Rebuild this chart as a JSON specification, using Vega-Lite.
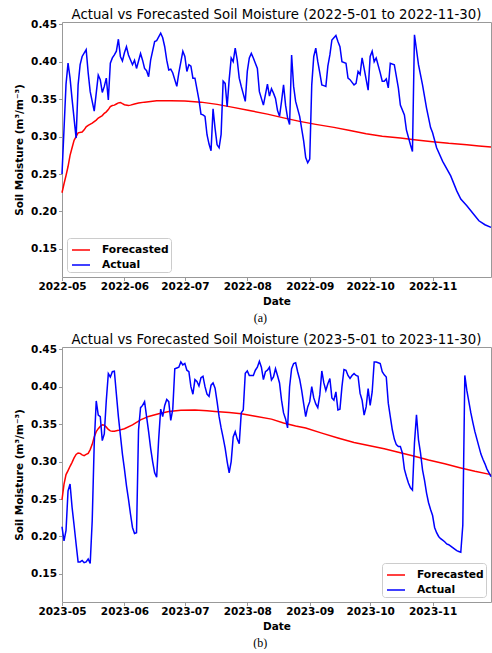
{
  "$schema": "https://vega.github.io/schema/vega-lite/v6.json",
  "padding": {"left": 14, "right": 0, "top": 7, "bottom": 0},
  "spacing": 8,
  "datasets": {
    "a_fc": [
      {"date": "2022-05-01", "value": 0.225}, {"date": "2022-05-02", "value": 0.237}, {"date": "2022-05-03", "value": 0.248},
      {"date": "2022-05-04", "value": 0.26}, {"date": "2022-05-05", "value": 0.275}, {"date": "2022-05-06", "value": 0.285},
      {"date": "2022-05-07", "value": 0.295}, {"date": "2022-05-08", "value": 0.3}, {"date": "2022-05-09", "value": 0.305},
      {"date": "2022-05-11", "value": 0.306}, {"date": "2022-05-12", "value": 0.309}, {"date": "2022-05-13", "value": 0.313},
      {"date": "2022-05-14", "value": 0.315}, {"date": "2022-05-16", "value": 0.318}, {"date": "2022-05-18", "value": 0.322},
      {"date": "2022-05-19", "value": 0.3247}, {"date": "2022-05-21", "value": 0.328}, {"date": "2022-05-22", "value": 0.331},
      {"date": "2022-05-23", "value": 0.333}, {"date": "2022-05-24", "value": 0.336}, {"date": "2022-05-25", "value": 0.34},
      {"date": "2022-05-26", "value": 0.3415}, {"date": "2022-05-27", "value": 0.342}, {"date": "2022-05-28", "value": 0.3435},
      {"date": "2022-05-29", "value": 0.345}, {"date": "2022-05-30", "value": 0.3456}, {"date": "2022-05-31", "value": 0.344},
      {"date": "2022-06-01", "value": 0.3425}, {"date": "2022-06-03", "value": 0.3415}, {"date": "2022-06-04", "value": 0.342},
      {"date": "2022-06-06", "value": 0.3435}, {"date": "2022-06-08", "value": 0.3448}, {"date": "2022-06-11", "value": 0.346},
      {"date": "2022-06-14", "value": 0.347}, {"date": "2022-06-17", "value": 0.3478}, {"date": "2022-06-24", "value": 0.3478},
      {"date": "2022-07-01", "value": 0.3476}, {"date": "2022-07-09", "value": 0.346}, {"date": "2022-07-17", "value": 0.343},
      {"date": "2022-07-25", "value": 0.339}, {"date": "2022-08-02", "value": 0.3348}, {"date": "2022-08-11", "value": 0.33},
      {"date": "2022-08-19", "value": 0.325}, {"date": "2022-08-27", "value": 0.3203}, {"date": "2022-09-04", "value": 0.3163},
      {"date": "2022-09-13", "value": 0.3123}, {"date": "2022-09-21", "value": 0.308}, {"date": "2022-09-29", "value": 0.3039},
      {"date": "2022-10-07", "value": 0.3005}, {"date": "2022-10-16", "value": 0.298}, {"date": "2022-10-24", "value": 0.2955},
      {"date": "2022-11-01", "value": 0.2932}, {"date": "2022-11-09", "value": 0.291}, {"date": "2022-11-18", "value": 0.2892},
      {"date": "2022-11-24", "value": 0.2875}, {"date": "2022-11-30", "value": 0.286}
    ],
    "a_act": [
      {"date": "2022-05-01", "value": 0.25}, {"date": "2022-05-02", "value": 0.31}, {"date": "2022-05-03", "value": 0.37},
      {"date": "2022-05-04", "value": 0.398}, {"date": "2022-05-05", "value": 0.378}, {"date": "2022-05-06", "value": 0.35},
      {"date": "2022-05-08", "value": 0.298}, {"date": "2022-05-09", "value": 0.369}, {"date": "2022-05-10", "value": 0.396},
      {"date": "2022-05-11", "value": 0.407}, {"date": "2022-05-13", "value": 0.416}, {"date": "2022-05-14", "value": 0.385},
      {"date": "2022-05-15", "value": 0.36}, {"date": "2022-05-17", "value": 0.334}, {"date": "2022-05-19", "value": 0.382},
      {"date": "2022-05-20", "value": 0.376}, {"date": "2022-05-21", "value": 0.359}, {"date": "2022-05-22", "value": 0.367},
      {"date": "2022-05-23", "value": 0.378}, {"date": "2022-05-24", "value": 0.349}, {"date": "2022-05-25", "value": 0.398},
      {"date": "2022-05-26", "value": 0.405}, {"date": "2022-05-27", "value": 0.409}, {"date": "2022-05-28", "value": 0.414},
      {"date": "2022-05-29", "value": 0.43}, {"date": "2022-05-30", "value": 0.407}, {"date": "2022-05-31", "value": 0.401},
      {"date": "2022-06-01", "value": 0.412}, {"date": "2022-06-02", "value": 0.42}, {"date": "2022-06-03", "value": 0.409},
      {"date": "2022-06-05", "value": 0.396}, {"date": "2022-06-06", "value": 0.402}, {"date": "2022-06-07", "value": 0.391},
      {"date": "2022-06-09", "value": 0.411}, {"date": "2022-06-10", "value": 0.402}, {"date": "2022-06-11", "value": 0.391},
      {"date": "2022-06-12", "value": 0.388}, {"date": "2022-06-13", "value": 0.38}, {"date": "2022-06-14", "value": 0.402},
      {"date": "2022-06-16", "value": 0.427}, {"date": "2022-06-17", "value": 0.428}, {"date": "2022-06-19", "value": 0.438},
      {"date": "2022-06-20", "value": 0.432}, {"date": "2022-06-21", "value": 0.42}, {"date": "2022-06-22", "value": 0.402},
      {"date": "2022-06-23", "value": 0.389}, {"date": "2022-06-24", "value": 0.39}, {"date": "2022-06-25", "value": 0.385},
      {"date": "2022-06-27", "value": 0.367}, {"date": "2022-06-28", "value": 0.385}, {"date": "2022-06-30", "value": 0.414},
      {"date": "2022-07-01", "value": 0.407}, {"date": "2022-07-02", "value": 0.387}, {"date": "2022-07-03", "value": 0.396},
      {"date": "2022-07-04", "value": 0.394}, {"date": "2022-07-05", "value": 0.378}, {"date": "2022-07-06", "value": 0.378},
      {"date": "2022-07-08", "value": 0.349}, {"date": "2022-07-09", "value": 0.33}, {"date": "2022-07-10", "value": 0.329},
      {"date": "2022-07-11", "value": 0.327}, {"date": "2022-07-12", "value": 0.3025}, {"date": "2022-07-13", "value": 0.29},
      {"date": "2022-07-14", "value": 0.281}, {"date": "2022-07-15", "value": 0.337}, {"date": "2022-07-16", "value": 0.311},
      {"date": "2022-07-17", "value": 0.289}, {"date": "2022-07-18", "value": 0.285}, {"date": "2022-07-19", "value": 0.303},
      {"date": "2022-07-20", "value": 0.374}, {"date": "2022-07-21", "value": 0.371}, {"date": "2022-07-22", "value": 0.34},
      {"date": "2022-07-23", "value": 0.376}, {"date": "2022-07-24", "value": 0.405}, {"date": "2022-07-25", "value": 0.4},
      {"date": "2022-07-26", "value": 0.418}, {"date": "2022-07-27", "value": 0.402}, {"date": "2022-07-28", "value": 0.378},
      {"date": "2022-07-29", "value": 0.367}, {"date": "2022-07-30", "value": 0.357}, {"date": "2022-07-31", "value": 0.347},
      {"date": "2022-08-01", "value": 0.387}, {"date": "2022-08-02", "value": 0.405}, {"date": "2022-08-03", "value": 0.411},
      {"date": "2022-08-04", "value": 0.405}, {"date": "2022-08-05", "value": 0.398}, {"date": "2022-08-06", "value": 0.391},
      {"date": "2022-08-07", "value": 0.36}, {"date": "2022-08-09", "value": 0.342}, {"date": "2022-08-11", "value": 0.37},
      {"date": "2022-08-12", "value": 0.354}, {"date": "2022-08-13", "value": 0.364}, {"date": "2022-08-14", "value": 0.358},
      {"date": "2022-08-15", "value": 0.351}, {"date": "2022-08-16", "value": 0.335}, {"date": "2022-08-17", "value": 0.327},
      {"date": "2022-08-18", "value": 0.347}, {"date": "2022-08-19", "value": 0.369}, {"date": "2022-08-20", "value": 0.342},
      {"date": "2022-08-21", "value": 0.325}, {"date": "2022-08-22", "value": 0.316}, {"date": "2022-08-23", "value": 0.409},
      {"date": "2022-08-24", "value": 0.367}, {"date": "2022-08-25", "value": 0.347}, {"date": "2022-08-27", "value": 0.327},
      {"date": "2022-08-29", "value": 0.294}, {"date": "2022-08-30", "value": 0.272}, {"date": "2022-08-31", "value": 0.265},
      {"date": "2022-09-01", "value": 0.27}, {"date": "2022-09-02", "value": 0.369}, {"date": "2022-09-03", "value": 0.407},
      {"date": "2022-09-04", "value": 0.418}, {"date": "2022-09-05", "value": 0.4}, {"date": "2022-09-06", "value": 0.385},
      {"date": "2022-09-07", "value": 0.369}, {"date": "2022-09-08", "value": 0.368}, {"date": "2022-09-09", "value": 0.367},
      {"date": "2022-09-10", "value": 0.394}, {"date": "2022-09-11", "value": 0.409}, {"date": "2022-09-12", "value": 0.429},
      {"date": "2022-09-13", "value": 0.432}, {"date": "2022-09-14", "value": 0.435}, {"date": "2022-09-15", "value": 0.427},
      {"date": "2022-09-16", "value": 0.42}, {"date": "2022-09-17", "value": 0.4}, {"date": "2022-09-19", "value": 0.398},
      {"date": "2022-09-20", "value": 0.378}, {"date": "2022-09-21", "value": 0.376}, {"date": "2022-09-23", "value": 0.369},
      {"date": "2022-09-24", "value": 0.371}, {"date": "2022-09-25", "value": 0.387}, {"date": "2022-09-26", "value": 0.383},
      {"date": "2022-09-27", "value": 0.405}, {"date": "2022-09-28", "value": 0.391}, {"date": "2022-09-30", "value": 0.362},
      {"date": "2022-10-01", "value": 0.407}, {"date": "2022-10-02", "value": 0.414}, {"date": "2022-10-03", "value": 0.4},
      {"date": "2022-10-04", "value": 0.405}, {"date": "2022-10-06", "value": 0.385}, {"date": "2022-10-07", "value": 0.374},
      {"date": "2022-10-08", "value": 0.374}, {"date": "2022-10-09", "value": 0.377}, {"date": "2022-10-10", "value": 0.365},
      {"date": "2022-10-11", "value": 0.398}, {"date": "2022-10-13", "value": 0.396}, {"date": "2022-10-15", "value": 0.365},
      {"date": "2022-10-16", "value": 0.342}, {"date": "2022-10-18", "value": 0.329}, {"date": "2022-10-19", "value": 0.309},
      {"date": "2022-10-21", "value": 0.289}, {"date": "2022-10-22", "value": 0.28}, {"date": "2022-10-23", "value": 0.436},
      {"date": "2022-10-25", "value": 0.396}, {"date": "2022-10-27", "value": 0.369}, {"date": "2022-10-29", "value": 0.338},
      {"date": "2022-10-31", "value": 0.312}, {"date": "2022-11-01", "value": 0.305}, {"date": "2022-11-03", "value": 0.285},
      {"date": "2022-11-06", "value": 0.267}, {"date": "2022-11-10", "value": 0.2475}, {"date": "2022-11-13", "value": 0.2275},
      {"date": "2022-11-15", "value": 0.2165}, {"date": "2022-11-18", "value": 0.2076}, {"date": "2022-11-20", "value": 0.201},
      {"date": "2022-11-22", "value": 0.1943}, {"date": "2022-11-24", "value": 0.1876}, {"date": "2022-11-27", "value": 0.1823},
      {"date": "2022-11-30", "value": 0.1787}
    ],
    "b_fc": [
      {"date": "2023-05-01", "value": 0.249}, {"date": "2023-05-02", "value": 0.27}, {"date": "2023-05-03", "value": 0.2826},
      {"date": "2023-05-04", "value": 0.288}, {"date": "2023-05-05", "value": 0.2937}, {"date": "2023-05-06", "value": 0.299},
      {"date": "2023-05-07", "value": 0.305}, {"date": "2023-05-08", "value": 0.3095}, {"date": "2023-05-09", "value": 0.3115},
      {"date": "2023-05-10", "value": 0.311}, {"date": "2023-05-11", "value": 0.309}, {"date": "2023-05-12", "value": 0.308},
      {"date": "2023-05-13", "value": 0.3095}, {"date": "2023-05-14", "value": 0.311}, {"date": "2023-05-15", "value": 0.316},
      {"date": "2023-05-16", "value": 0.323}, {"date": "2023-05-17", "value": 0.333}, {"date": "2023-05-18", "value": 0.34},
      {"date": "2023-05-19", "value": 0.344}, {"date": "2023-05-20", "value": 0.347}, {"date": "2023-05-21", "value": 0.349},
      {"date": "2023-05-22", "value": 0.3485}, {"date": "2023-05-23", "value": 0.346}, {"date": "2023-05-24", "value": 0.343},
      {"date": "2023-05-25", "value": 0.341}, {"date": "2023-05-26", "value": 0.3404}, {"date": "2023-05-27", "value": 0.3406},
      {"date": "2023-05-29", "value": 0.3417}, {"date": "2023-06-01", "value": 0.3438}, {"date": "2023-06-05", "value": 0.349},
      {"date": "2023-06-09", "value": 0.3558}, {"date": "2023-06-13", "value": 0.3603}, {"date": "2023-06-18", "value": 0.3638},
      {"date": "2023-06-23", "value": 0.367}, {"date": "2023-06-29", "value": 0.3686}, {"date": "2023-07-06", "value": 0.3688},
      {"date": "2023-07-12", "value": 0.368}, {"date": "2023-07-16", "value": 0.367}, {"date": "2023-07-23", "value": 0.3655},
      {"date": "2023-07-29", "value": 0.3638}, {"date": "2023-08-05", "value": 0.3605}, {"date": "2023-08-13", "value": 0.3567},
      {"date": "2023-08-19", "value": 0.3515}, {"date": "2023-08-25", "value": 0.3475}, {"date": "2023-08-30", "value": 0.3448},
      {"date": "2023-09-07", "value": 0.338}, {"date": "2023-09-15", "value": 0.3315}, {"date": "2023-09-23", "value": 0.3255},
      {"date": "2023-10-02", "value": 0.3204}, {"date": "2023-10-08", "value": 0.317}, {"date": "2023-10-15", "value": 0.3125},
      {"date": "2023-10-23", "value": 0.307}, {"date": "2023-10-30", "value": 0.302}, {"date": "2023-11-07", "value": 0.297},
      {"date": "2023-11-15", "value": 0.2915}, {"date": "2023-11-22", "value": 0.287}, {"date": "2023-11-30", "value": 0.2826}
    ],
    "b_act": [
      {"date": "2023-05-01", "value": 0.213}, {"date": "2023-05-02", "value": 0.194}, {"date": "2023-05-03", "value": 0.208},
      {"date": "2023-05-04", "value": 0.261}, {"date": "2023-05-05", "value": 0.27}, {"date": "2023-05-06", "value": 0.239},
      {"date": "2023-05-07", "value": 0.215}, {"date": "2023-05-08", "value": 0.19}, {"date": "2023-05-09", "value": 0.166},
      {"date": "2023-05-10", "value": 0.166}, {"date": "2023-05-11", "value": 0.168}, {"date": "2023-05-12", "value": 0.165},
      {"date": "2023-05-13", "value": 0.166}, {"date": "2023-05-14", "value": 0.17}, {"date": "2023-05-15", "value": 0.164},
      {"date": "2023-05-16", "value": 0.221}, {"date": "2023-05-17", "value": 0.324}, {"date": "2023-05-18", "value": 0.381},
      {"date": "2023-05-19", "value": 0.362}, {"date": "2023-05-20", "value": 0.36}, {"date": "2023-05-21", "value": 0.328},
      {"date": "2023-05-22", "value": 0.337}, {"date": "2023-05-23", "value": 0.382}, {"date": "2023-05-24", "value": 0.4175},
      {"date": "2023-05-25", "value": 0.413}, {"date": "2023-05-26", "value": 0.42}, {"date": "2023-05-27", "value": 0.4206},
      {"date": "2023-05-28", "value": 0.39}, {"date": "2023-05-29", "value": 0.36}, {"date": "2023-05-30", "value": 0.335},
      {"date": "2023-05-31", "value": 0.31}, {"date": "2023-06-01", "value": 0.29}, {"date": "2023-06-02", "value": 0.268},
      {"date": "2023-06-03", "value": 0.25}, {"date": "2023-06-04", "value": 0.23}, {"date": "2023-06-05", "value": 0.212},
      {"date": "2023-06-06", "value": 0.204}, {"date": "2023-06-07", "value": 0.205}, {"date": "2023-06-08", "value": 0.342},
      {"date": "2023-06-09", "value": 0.372}, {"date": "2023-06-10", "value": 0.375}, {"date": "2023-06-11", "value": 0.38},
      {"date": "2023-06-12", "value": 0.36}, {"date": "2023-06-13", "value": 0.34}, {"date": "2023-06-14", "value": 0.318},
      {"date": "2023-06-15", "value": 0.3}, {"date": "2023-06-16", "value": 0.285}, {"date": "2023-06-17", "value": 0.279},
      {"date": "2023-06-18", "value": 0.33}, {"date": "2023-06-19", "value": 0.37}, {"date": "2023-06-20", "value": 0.36},
      {"date": "2023-06-21", "value": 0.375}, {"date": "2023-06-22", "value": 0.383}, {"date": "2023-06-23", "value": 0.38},
      {"date": "2023-06-24", "value": 0.355}, {"date": "2023-06-25", "value": 0.37}, {"date": "2023-06-26", "value": 0.424},
      {"date": "2023-06-27", "value": 0.425}, {"date": "2023-06-28", "value": 0.426}, {"date": "2023-06-29", "value": 0.433},
      {"date": "2023-06-30", "value": 0.429}, {"date": "2023-07-01", "value": 0.431}, {"date": "2023-07-02", "value": 0.422},
      {"date": "2023-07-03", "value": 0.42}, {"date": "2023-07-04", "value": 0.4}, {"date": "2023-07-05", "value": 0.39},
      {"date": "2023-07-06", "value": 0.4095}, {"date": "2023-07-07", "value": 0.407}, {"date": "2023-07-08", "value": 0.401},
      {"date": "2023-07-09", "value": 0.412}, {"date": "2023-07-10", "value": 0.414}, {"date": "2023-07-11", "value": 0.4},
      {"date": "2023-07-12", "value": 0.39}, {"date": "2023-07-13", "value": 0.387}, {"date": "2023-07-14", "value": 0.402},
      {"date": "2023-07-15", "value": 0.405}, {"date": "2023-07-16", "value": 0.398}, {"date": "2023-07-17", "value": 0.38},
      {"date": "2023-07-18", "value": 0.36}, {"date": "2023-07-19", "value": 0.345}, {"date": "2023-07-20", "value": 0.332},
      {"date": "2023-07-21", "value": 0.318}, {"date": "2023-07-22", "value": 0.3}, {"date": "2023-07-23", "value": 0.285},
      {"date": "2023-07-24", "value": 0.3}, {"date": "2023-07-25", "value": 0.333}, {"date": "2023-07-26", "value": 0.34},
      {"date": "2023-07-27", "value": 0.33}, {"date": "2023-07-28", "value": 0.324}, {"date": "2023-07-29", "value": 0.365},
      {"date": "2023-07-30", "value": 0.369}, {"date": "2023-07-31", "value": 0.418}, {"date": "2023-08-01", "value": 0.421},
      {"date": "2023-08-02", "value": 0.415}, {"date": "2023-08-04", "value": 0.415}, {"date": "2023-08-05", "value": 0.422},
      {"date": "2023-08-06", "value": 0.426}, {"date": "2023-08-07", "value": 0.434}, {"date": "2023-08-08", "value": 0.426},
      {"date": "2023-08-09", "value": 0.4095}, {"date": "2023-08-10", "value": 0.42}, {"date": "2023-08-11", "value": 0.422},
      {"date": "2023-08-12", "value": 0.426}, {"date": "2023-08-13", "value": 0.409}, {"date": "2023-08-14", "value": 0.413},
      {"date": "2023-08-15", "value": 0.424}, {"date": "2023-08-16", "value": 0.415}, {"date": "2023-08-17", "value": 0.405},
      {"date": "2023-08-18", "value": 0.382}, {"date": "2023-08-19", "value": 0.365}, {"date": "2023-08-20", "value": 0.357},
      {"date": "2023-08-21", "value": 0.345}, {"date": "2023-08-22", "value": 0.4}, {"date": "2023-08-23", "value": 0.424},
      {"date": "2023-08-24", "value": 0.431}, {"date": "2023-08-25", "value": 0.432}, {"date": "2023-08-26", "value": 0.42},
      {"date": "2023-08-27", "value": 0.41}, {"date": "2023-08-28", "value": 0.395}, {"date": "2023-08-29", "value": 0.377},
      {"date": "2023-08-30", "value": 0.36}, {"date": "2023-08-31", "value": 0.373}, {"date": "2023-09-01", "value": 0.38},
      {"date": "2023-09-02", "value": 0.4}, {"date": "2023-09-03", "value": 0.385}, {"date": "2023-09-04", "value": 0.377},
      {"date": "2023-09-05", "value": 0.372}, {"date": "2023-09-06", "value": 0.389}, {"date": "2023-09-07", "value": 0.421},
      {"date": "2023-09-08", "value": 0.405}, {"date": "2023-09-09", "value": 0.395}, {"date": "2023-09-10", "value": 0.404},
      {"date": "2023-09-11", "value": 0.411}, {"date": "2023-09-12", "value": 0.385}, {"date": "2023-09-13", "value": 0.382},
      {"date": "2023-09-14", "value": 0.393}, {"date": "2023-09-15", "value": 0.369}, {"date": "2023-09-16", "value": 0.37},
      {"date": "2023-09-17", "value": 0.4}, {"date": "2023-09-18", "value": 0.423}, {"date": "2023-09-19", "value": 0.422},
      {"date": "2023-09-20", "value": 0.415}, {"date": "2023-09-21", "value": 0.411}, {"date": "2023-09-22", "value": 0.415},
      {"date": "2023-09-23", "value": 0.4175}, {"date": "2023-09-24", "value": 0.415}, {"date": "2023-09-25", "value": 0.414},
      {"date": "2023-09-26", "value": 0.391}, {"date": "2023-09-27", "value": 0.382}, {"date": "2023-09-28", "value": 0.362},
      {"date": "2023-09-29", "value": 0.373}, {"date": "2023-09-30", "value": 0.3975}, {"date": "2023-10-01", "value": 0.375},
      {"date": "2023-10-02", "value": 0.393}, {"date": "2023-10-03", "value": 0.433}, {"date": "2023-10-04", "value": 0.433},
      {"date": "2023-10-05", "value": 0.432}, {"date": "2023-10-06", "value": 0.431}, {"date": "2023-10-07", "value": 0.42},
      {"date": "2023-10-08", "value": 0.4158}, {"date": "2023-10-09", "value": 0.413}, {"date": "2023-10-10", "value": 0.378},
      {"date": "2023-10-11", "value": 0.36}, {"date": "2023-10-12", "value": 0.3425}, {"date": "2023-10-13", "value": 0.33},
      {"date": "2023-10-14", "value": 0.3226}, {"date": "2023-10-15", "value": 0.32}, {"date": "2023-10-16", "value": 0.32},
      {"date": "2023-10-17", "value": 0.3115}, {"date": "2023-10-18", "value": 0.29}, {"date": "2023-10-19", "value": 0.28},
      {"date": "2023-10-20", "value": 0.2715}, {"date": "2023-10-21", "value": 0.265}, {"date": "2023-10-22", "value": 0.262},
      {"date": "2023-10-23", "value": 0.325}, {"date": "2023-10-24", "value": 0.3625}, {"date": "2023-10-25", "value": 0.329},
      {"date": "2023-10-26", "value": 0.3115}, {"date": "2023-10-27", "value": 0.289}, {"date": "2023-10-28", "value": 0.275},
      {"date": "2023-10-29", "value": 0.258}, {"date": "2023-10-30", "value": 0.245}, {"date": "2023-10-31", "value": 0.236},
      {"date": "2023-11-01", "value": 0.228}, {"date": "2023-11-02", "value": 0.212}, {"date": "2023-11-03", "value": 0.205},
      {"date": "2023-11-04", "value": 0.2}, {"date": "2023-11-05", "value": 0.197}, {"date": "2023-11-06", "value": 0.195},
      {"date": "2023-11-07", "value": 0.193}, {"date": "2023-11-08", "value": 0.19}, {"date": "2023-11-09", "value": 0.189},
      {"date": "2023-11-10", "value": 0.187}, {"date": "2023-11-11", "value": 0.185}, {"date": "2023-11-12", "value": 0.183},
      {"date": "2023-11-13", "value": 0.181}, {"date": "2023-11-14", "value": 0.18}, {"date": "2023-11-15", "value": 0.179},
      {"date": "2023-11-16", "value": 0.215}, {"date": "2023-11-17", "value": 0.415}, {"date": "2023-11-18", "value": 0.395},
      {"date": "2023-11-19", "value": 0.38}, {"date": "2023-11-20", "value": 0.365}, {"date": "2023-11-21", "value": 0.352},
      {"date": "2023-11-22", "value": 0.34}, {"date": "2023-11-23", "value": 0.33}, {"date": "2023-11-24", "value": 0.32},
      {"date": "2023-11-25", "value": 0.31}, {"date": "2023-11-26", "value": 0.303}, {"date": "2023-11-27", "value": 0.297},
      {"date": "2023-11-28", "value": 0.29}, {"date": "2023-11-29", "value": 0.285}, {"date": "2023-11-30", "value": 0.28}
    ]
  },
  "config": {
    "font": "DejaVu Sans",
    "view": {"stroke": "#999999", "strokeWidth": 1},
    "title": {"font": "DejaVu Sans", "fontSize": 13.3, "fontWeight": "normal", "color": "#000000", "offset": -2},
    "axis": {
      "labelFont": "DejaVu Sans", "labelFontWeight": "bold", "labelFontSize": 10.5, "labelColor": "#000000",
      "titleFont": "DejaVu Sans", "titleFontWeight": "bold", "titleFontSize": 10.5, "titleColor": "#000000",
      "domain": false, "grid": false, "tickColor": "#999999", "tickSize": 3.5, "labelPadding": 1
    },
    "axisX": {"labelFlush": false, "labelOverlap": false, "titlePadding": 4},
    "axisY": {"titlePadding": 6, "labelPadding": 2},
    "legend": {
      "title": null, "symbolType": "stroke", "symbolSize": 324, "symbolStrokeWidth": 1.5, "symbolOffset": 2,
      "labelFont": "DejaVu Sans", "labelFontWeight": "bold", "labelFontSize": 10.7, "labelColor": "#000000",
      "fillColor": "#ffffff", "strokeColor": "#cccccc", "cornerRadius": 3, "padding": 2, "rowPadding": -2, "offset": 5, "labelOffset": 11
    },
    "line": {"strokeWidth": 1.5}
  },
  "vconcat": [
    {
      "title": {"text": "(a)", "orient": "bottom", "anchor": "middle", "font": "Liberation Serif", "fontSize": 12, "offset": 6, "dx": 6},
      "resolve": {"scale": {"color": "independent"}, "legend": {"color": "independent"}},
      "vconcat": [
        {
          "title": "Actual vs Forecasted Soil Moisture (2022-5-01 to 2022-11-30)",
          "width": 429,
          "height": 255,
          "encoding": {
            "x": {"field": "date", "type": "temporal", "title": "Date",
                  "scale": {"type": "utc", "domain": [{"year": 2022, "month": 5, "date": 1, "utc": true}, {"year": 2022, "month": 11, "date": 30, "utc": true}]},
                  "axis": {"format": "%Y-%m", "tickCount": {"interval": "month", "step": 1}}},
            "y": {"field": "value", "type": "quantitative", "title": "Soil Moisture (m³/m⁻³)",
                  "scale": {"domain": [0.1125, 0.453], "nice": false, "zero": false},
                  "axis": {"values": [0.15, 0.2, 0.25, 0.3, 0.35, 0.4, 0.45], "format": ".2f"}}
          },
          "layer": [
            {"data": {"name": "a_fc"}, "mark": "line",
             "encoding": {"color": {"datum": "Forecasted", "scale": {"domain": ["Forecasted", "Actual"], "range": ["#ff0000", "#0000ff"]}, "legend": {"orient": "bottom-left"}}}},
            {"data": {"name": "a_act"}, "mark": "line",
             "encoding": {"color": {"datum": "Actual", "scale": {"domain": ["Forecasted", "Actual"], "range": ["#ff0000", "#0000ff"]}, "legend": {"orient": "bottom-left"}}}}
          ]
        }
      ]
    },
    {
      "title": {"text": "(b)", "orient": "bottom", "anchor": "middle", "font": "Liberation Serif", "fontSize": 12, "offset": 6, "dx": 6},
      "resolve": {"scale": {"color": "independent"}, "legend": {"color": "independent"}},
      "vconcat": [
        {
          "title": "Actual vs Forecasted Soil Moisture (2023-5-01 to 2023-11-30)",
          "width": 429,
          "height": 255,
          "encoding": {
            "x": {"field": "date", "type": "temporal", "title": "Date",
                  "scale": {"type": "utc", "domain": [{"year": 2023, "month": 5, "date": 1, "utc": true}, {"year": 2023, "month": 11, "date": 30, "utc": true}]},
                  "axis": {"format": "%Y-%m", "tickCount": {"interval": "month", "step": 1}}},
            "y": {"field": "value", "type": "quantitative", "title": "Soil Moisture (m³/m⁻³)",
                  "scale": {"domain": [0.1125, 0.453], "nice": false, "zero": false},
                  "axis": {"values": [0.15, 0.2, 0.25, 0.3, 0.35, 0.4, 0.45], "format": ".2f"}}
          },
          "layer": [
            {"data": {"name": "b_fc"}, "mark": "line",
             "encoding": {"color": {"datum": "Forecasted", "scale": {"domain": ["Forecasted", "Actual"], "range": ["#ff0000", "#0000ff"]}, "legend": {"orient": "bottom-right"}}}},
            {"data": {"name": "b_act"}, "mark": "line",
             "encoding": {"color": {"datum": "Actual", "scale": {"domain": ["Forecasted", "Actual"], "range": ["#ff0000", "#0000ff"]}, "legend": {"orient": "bottom-right"}}}}
          ]
        }
      ]
    }
  ],
  "resolve": {"scale": {"color": "independent", "x": "independent"}, "legend": {"color": "independent"}}
}
